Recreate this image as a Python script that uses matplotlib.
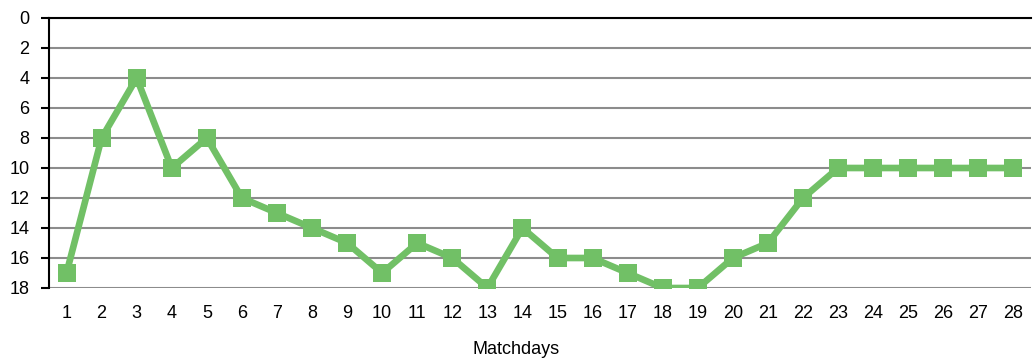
"""
League position per matchday (inverted rank axis).
"""

import matplotlib
matplotlib.use("Agg")
import matplotlib.pyplot as plt

plt.rcParams["font.family"] = ["Liberation Sans", "DejaVu Sans"]

matchdays = list(range(1, 29))
position = [17, 8, 4, 10, 8, 12, 13, 14, 15, 17, 15, 16, 18, 14,
            16, 16, 17, 18, 18, 16, 15, 12, 10, 10, 10, 10, 10, 10]
y_ticks = list(range(0, 20, 2))

LINE_COLOR = "#71C066"
GRID_COLOR = "#8C8C8C"

fig = plt.figure(figsize=(10.34, 3.63), dpi=100)
ax = fig.add_axes([49 / 1034, 1 - 288 / 363, 982 / 1034, 270 / 363])

ax.plot(
    matchdays,
    position,
    color=LINE_COLOR,
    linewidth=4.8,
    marker="s",
    markersize=13,
    markeredgewidth=0,
    zorder=3,
)

ax.set_xlim(0.5, 28.5)
ax.set_ylim(18, 0)

ax.set_yticks(y_ticks)
ax.set_xticks(matchdays)

ax.yaxis.grid(True, color=GRID_COLOR, linewidth=1.5)
ax.set_axisbelow(True)

for side in ["right", "bottom"]:
    ax.spines[side].set_visible(False)
ax.spines["top"].set_color("black")
ax.spines["top"].set_linewidth(1.5)
ax.spines["left"].set_color("black")
ax.spines["left"].set_linewidth(1.5)

ax.tick_params(axis="y", length=6, width=1.5, direction="out",
               labelsize=13, pad=8)
ax.tick_params(axis="x", length=0, labelsize=13, pad=12)

fig.text(516 / 1034, 1 - 350 / 363, "Matchdays",
         ha="center", va="center", fontsize=13)

plt.savefig("out.png", dpi=100)
